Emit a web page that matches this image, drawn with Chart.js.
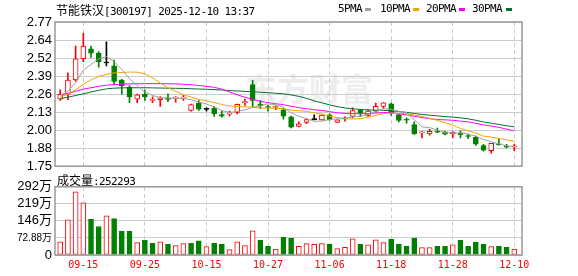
<!DOCTYPE html>
<html>
<head>
<meta charset="utf-8">
<script src="https://cdn.jsdelivr.net/npm/chart.js@4.4.1/dist/chart.umd.min.js"></script>
<style>
body { margin: 0; background: #fff; }
#wrap { position: relative; width: 578px; height: 276px; overflow: hidden; }
canvas { position: absolute; left: 0; }
.txt { position: absolute; z-index: 2; white-space: nowrap; color: #000;
       font-family: "DejaVu Sans Mono", monospace; font-size: 11px; line-height: 13px; letter-spacing: -0.6px; }
.cjk { font-family: "Noto Sans CJK SC"; font-size: 12px; letter-spacing: 0; }
.mark { position: absolute; z-index: 2; width: 6px; height: 3px; top: 8px; }
</style>
</head>
<body>
<div id="wrap">
  <canvas id="priceChart" width="578" height="177" style="top:0"></canvas>
  <canvas id="volChart" width="578" height="100" style="top:176px"></canvas>
  <div class="txt" id="title" style="left:56px;top:3px"></div>
  <div id="legend"></div>
  <div class="txt" id="volLabel" style="left:57px;top:173px"></div>
</div>
<script>
// trading days shown (60 sessions)
const dates = ['09-10','09-11','09-12','09-15','09-16','09-17','09-18','09-19','09-22','09-23',
  '09-24','09-25','09-26','09-29','09-30','10-09','10-10','10-13','10-14','10-15',
  '10-16','10-17','10-20','10-21','10-22','10-23','10-24','10-27','10-28','10-29',
  '10-30','10-31','11-03','11-04','11-05','11-06','11-07','11-10','11-11','11-12',
  '11-13','11-14','11-17','11-18','11-19','11-20','11-21','11-24','11-25','11-26',
  '11-27','11-28','12-01','12-02','12-03','12-04','12-05','12-08','12-09','12-10'];
const xTickLabels = ['09-15','09-25','10-15','10-27','11-06','11-18','11-28','12-10'];

// daily prices
const open = [2.225,2.26,2.36,2.51,2.58,2.55,2.48,2.46,2.36,2.31,
  2.225,2.258,2.216,2.22,2.234,2.232,2.232,2.145,2.194,2.152,
  2.161,2.116,2.118,2.13,2.20,2.328,2.19,2.17,2.165,2.148,
  2.10,2.031,2.06,2.079,2.078,2.113,2.06,2.085,2.102,2.148,
  2.109,2.14,2.173,2.192,2.116,2.078,2.045,1.986,1.979,1.993,
  1.993,1.978,1.985,1.962,1.955,1.896,1.859,1.904,1.886,1.887];
const close = [2.258,2.36,2.51,2.60,2.55,2.49,2.48,2.35,2.32,2.24,
  2.255,2.24,2.22,2.234,2.222,2.235,2.236,2.185,2.154,2.152,
  2.121,2.104,2.121,2.187,2.204,2.215,2.178,2.165,2.168,2.104,
  2.026,2.05,2.08,2.079,2.111,2.08,2.078,2.088,2.144,2.125,
  2.14,2.173,2.199,2.125,2.073,2.075,1.979,1.99,1.997,1.99,
  1.977,1.992,1.973,1.96,1.906,1.863,1.911,1.901,1.884,1.89];
const high = [2.29,2.41,2.60,2.69,2.60,2.56,2.63,2.50,2.365,2.32,
  2.26,2.29,2.24,2.243,2.262,2.243,2.252,2.19,2.215,2.163,
  2.173,2.14,2.14,2.19,2.225,2.357,2.215,2.18,2.177,2.16,
  2.105,2.064,2.085,2.113,2.115,2.12,2.08,2.10,2.163,2.15,
  2.15,2.196,2.20,2.196,2.12,2.092,2.064,1.995,2.01,2.02,
  1.997,1.995,2.0,1.975,1.963,1.904,1.912,1.944,1.904,1.904];
const low = [2.215,2.22,2.35,2.49,2.52,2.45,2.46,2.33,2.26,2.20,
  2.20,2.215,2.20,2.173,2.206,2.203,2.215,2.14,2.144,2.139,
  2.102,2.097,2.104,2.12,2.18,2.168,2.157,2.14,2.15,2.083,
  2.02,2.028,2.05,2.078,2.076,2.076,2.058,2.068,2.092,2.10,
  2.10,2.13,2.159,2.109,2.064,2.055,1.974,1.95,1.97,1.988,
  1.972,1.95,1.95,1.945,1.897,1.856,1.842,1.899,1.88,1.86];

// moving averages
const ma5 = [2.25,2.28,2.34,2.43,2.47,2.51,2.525,2.49,2.435,2.37,
  2.32,2.275,2.25,2.235,2.232,2.23,2.229,2.22,2.205,2.19,
  2.168,2.143,2.13,2.137,2.148,2.166,2.178,2.19,2.186,2.166,
  2.128,2.103,2.086,2.068,2.069,2.08,2.085,2.087,2.1,2.103,
  2.115,2.134,2.156,2.152,2.138,2.129,2.08,2.028,2.023,2.006,
  1.987,1.985,1.986,1.978,1.962,1.939,1.923,1.908,1.893,1.89];
const ma10 = [2.24,2.26,2.29,2.33,2.36,2.385,2.40,2.41,2.413,2.416,
  2.415,2.403,2.375,2.338,2.305,2.28,2.255,2.239,2.222,2.213,
  2.2,2.186,2.176,2.172,2.17,2.168,2.162,2.16,2.161,2.157,
  2.147,2.142,2.138,2.127,2.118,2.104,2.094,2.086,2.084,2.086,
  2.097,2.11,2.122,2.126,2.122,2.122,2.112,2.102,2.088,2.074,
  2.058,2.04,2.017,2.0,1.984,1.963,1.956,1.947,1.936,1.926];
const ma20 = [2.255,2.265,2.28,2.295,2.305,2.315,2.323,2.327,2.33,2.332,
  2.333,2.334,2.334,2.334,2.333,2.332,2.33,2.326,2.321,2.315,
  2.308,2.295,2.276,2.255,2.238,2.224,2.209,2.199,2.192,2.185,
  2.174,2.164,2.157,2.149,2.144,2.136,2.128,2.123,2.123,2.121,
  2.122,2.126,2.13,2.127,2.12,2.113,2.103,2.094,2.086,2.08,
  2.078,2.075,2.069,2.064,2.053,2.042,2.034,2.025,2.012,2.0];
const ma30 = [2.228,2.238,2.25,2.262,2.275,2.287,2.297,2.302,2.304,2.305,
  2.305,2.305,2.304,2.303,2.302,2.301,2.3,2.298,2.296,2.294,
  2.292,2.289,2.285,2.282,2.279,2.276,2.273,2.27,2.266,2.262,
  2.254,2.244,2.23,2.212,2.198,2.184,2.171,2.162,2.156,2.152,
  2.148,2.146,2.145,2.142,2.137,2.131,2.123,2.116,2.111,2.106,
  2.101,2.097,2.092,2.085,2.075,2.063,2.054,2.045,2.036,2.029];

// volume in 万 (10k), and up/down colour of each volume bar
const volume = [56.8,150.6,269.9,223,152,122,167.6,156,101,101,
  52.6,62.5,49.7,56.8,45.5,39.8,48.3,49.7,61.1,35.5,
  49.7,45.5,22.7,56.8,39.8,103.7,62.5,36.9,25.6,75.3,
  71,36.9,48.3,45.5,48.3,45.5,27,32.7,69.6,45.5,
  44,65.3,52.6,66.8,45.5,36.9,71,31.3,31.3,36.9,
  36.9,44,62.5,36.9,54,45.5,35.5,36.9,32.7,25.23];
const volSide = 'rrrrggrgggrggrgrrggrggrrrrggrggrrrrgrrrgrrrggggrrggrggggrggr';

const priceTicks = [1.75,1.8775,2.005,2.1325,2.26,2.3875,2.515,2.6425,2.77];
const priceTickLabels = ['1.75','1.88','2.00','2.13','2.26','2.39','2.52','2.64','2.77'];
const volTicks = [0,72.88,145.76,218.64,291.52];
const volTickLabels = ['0','72.88万','146万','219万','292万'];

const stockName = '节能铁汉';
const stockCode = '[300197] 2025-12-10 13:37';
const lastVolume = '252293';
const maNames = ['5PMA','10PMA','20PMA','30PMA'];
const maColors = ['#a0a0a0','#f5a300','#ff00ff','#00712f'];

const UP = '#ff0000', DOWN = '#008000', FLAT = '#000000';
const X_MIN = -0.68, X_MAX = 60.0;
const tickIdx = xTickLabels.map(l => dates.indexOf(l));

// title + legend text
document.getElementById('title').innerHTML = '<span class="cjk">' + stockName + '</span>' + stockCode;
document.getElementById('volLabel').innerHTML = '<span class="cjk">成交量</span>:' + lastVolume;
const legendText = [338, 380, 426, 472];
const legendMark = [365, 413, 459, 506];
const legend = document.getElementById('legend');
maNames.forEach((n, i) => {
    legend.innerHTML += '<div class="txt" style="left:' + legendText[i] + 'px;top:2px">' + n + '</div>' +
        '<div class="mark" style="left:' + legendMark[i] + 'px;background:' + maColors[i] + '"></div>';
});

function candleColor(i) {
    if (close[i] > open[i]) return UP;
    if (close[i] < open[i]) return DOWN;
    return FLAT;
}

// frame + watermark
const framePlugin = {
    id: 'frame',
    beforeDraw(chart, args, opts) {
        if (!opts.watermark) return;
        const ctx = chart.ctx;
        ctx.save();
        ctx.fillStyle = '#ededed';
        ctx.font = 'bold 32px "Noto Sans CJK SC"';
        ctx.textBaseline = 'middle';
        ctx.fillText('东方财富', 245, 89);
        ctx.restore();
    },
    afterDraw(chart) {
        const { ctx, chartArea: a } = chart;
        ctx.save();
        ctx.strokeStyle = '#999999';
        ctx.lineWidth = 1.5;
        ctx.strokeRect(a.left, a.top, a.right - a.left, a.bottom - a.top);
        ctx.restore();
    }
};

const monoFont = "'DejaVu Sans Mono', 'Noto Sans CJK SC'";
const labelFont = "'Liberation Sans', 'Noto Sans CJK SC'";

function xScale(showLabels) {
    return {
        type: 'linear', min: X_MIN, max: X_MAX, offset: false,
        grid: { color: '#cccccc', offset: false, drawTicks: false },
        border: { display: false, dash: [4, 3] },
        ticks: {
            display: showLabels, color: UP, padding: 4, maxRotation: 0, autoSkip: false,
            font: { family: monoFont, size: 10 },
            callback: (v, i) => xTickLabels[i]
        },
        afterBuildTicks: s => { s.ticks = tickIdx.map(v => ({ value: v })); },
        afterFit: s => { s.height = showLabels ? 21 : 0; }
    };
}

const maSets = [ma5, ma10, ma20, ma30].map((arr, k) => ({
    type: 'line',
    label: maNames[k],
    data: arr.map((v, i) => ({ x: i, y: v })),
    borderColor: maColors[k],
    borderWidth: 1,
    pointRadius: 0,
    fill: false,
    order: 0
}));

new Chart(document.getElementById('priceChart'), {
    type: 'bar',
    data: {
        datasets: [
            ...maSets,
            {
                label: 'body',
                data: dates.map((d, i) => ({ x: i, y: [open[i], close[i]] })),
                backgroundColor: dates.map((d, i) => candleColor(i) === UP ? '#ffffff' : candleColor(i)),
                borderColor: dates.map((d, i) => candleColor(i)),
                borderWidth: 1,
                borderSkipped: false,
                barThickness: 5,
                minBarLength: 1,
                grouped: false,
                order: 1
            },
            {
                label: 'wick',
                data: dates.map((d, i) => ({ x: i, y: [low[i], high[i]] })),
                backgroundColor: dates.map((d, i) => candleColor(i)),
                borderWidth: 0,
                barThickness: 1,
                grouped: false,
                order: 2
            }
        ]
    },
    options: {
        responsive: false,
        animation: false,
        events: [],
        layout: { padding: { top: 22, right: 56, bottom: 0, left: 0 } },
        plugins: { legend: { display: false }, tooltip: { enabled: false }, frame: { watermark: true } },
        scales: {
            x: xScale(false),
            y: {
                min: 1.75, max: 2.77,
                grid: { color: '#cccccc', drawTicks: false },
                border: { display: false },
                ticks: {
                    color: '#000', padding: 3, autoSkip: false,
                    font: { family: labelFont, size: 13 },
                    callback: (v, i) => priceTickLabels[i]
                },
                afterBuildTicks: s => { s.ticks = priceTicks.map(v => ({ value: v })); },
                afterFit: s => { s.width = 55; }
            }
        }
    },
    plugins: [framePlugin]
});

new Chart(document.getElementById('volChart'), {
    type: 'bar',
    data: {
        datasets: [{
            label: 'volume',
            data: volume.map((v, i) => ({ x: i, y: v })),
            backgroundColor: volume.map((v, i) => volSide[i] === 'r' ? '#ffffff' : DOWN),
            borderColor: volume.map((v, i) => volSide[i] === 'r' ? UP : DOWN),
            borderWidth: 1,
            borderSkipped: false,
            barThickness: 5,
            grouped: false
        }]
    },
    options: {
        responsive: false,
        animation: false,
        events: [],
        layout: { padding: { top: 0, right: 56, bottom: 0, left: 0 } },
        plugins: { legend: { display: false }, tooltip: { enabled: false }, frame: { watermark: false } },
        scales: {
            x: xScale(true),
            y: {
                min: 0, max: 291.52,
                grid: { color: '#cccccc', drawTicks: false },
                border: { display: false },
                ticks: {
                    color: '#000', padding: 3, autoSkip: false,
                    font: ctx => ({ family: labelFont, size: ctx.index === 1 ? 10 : 13 }),
                    callback: (v, i) => volTickLabels[i]
                },
                afterBuildTicks: s => { s.ticks = volTicks.map(v => ({ value: v })); },
                afterFit: s => { s.width = 55; }
            }
        }
    },
    plugins: [framePlugin]
});
</script>
</body>
</html>
